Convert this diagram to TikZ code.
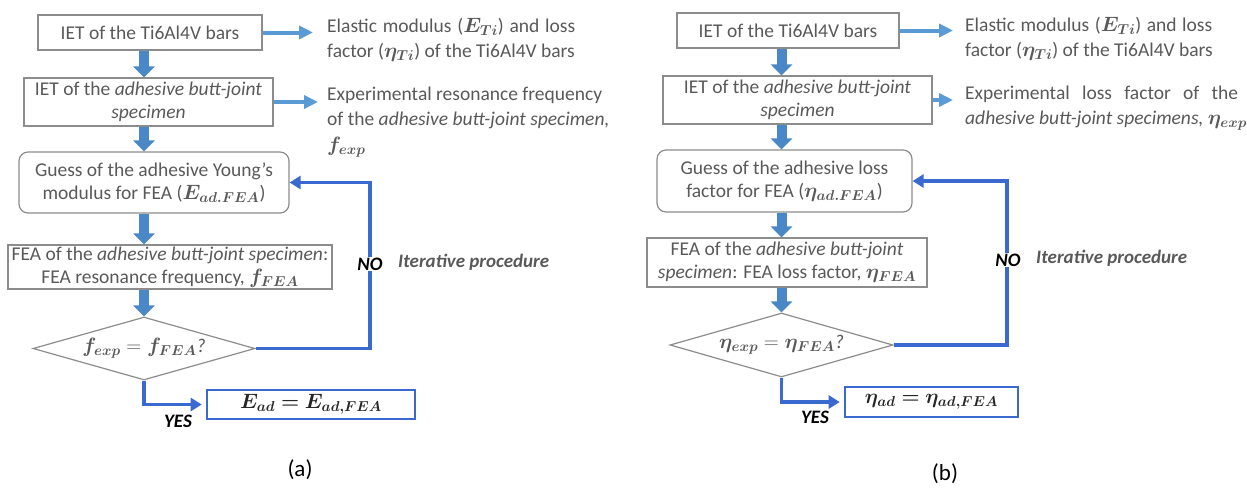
\documentclass[tikz,border=0pt]{standalone}
\usepackage{fontspec}
\setmainfont{Carlito}
\usepackage{bm}
\usetikzlibrary{arrows.meta,shapes.geometric,calc}
% slightly larger formulas next to the 19.5pt text
\DeclareMathSizes{19.5}{21.5}{15.5}{12}

\definecolor{txtgray}{HTML}{595959}
\definecolor{mathgray}{HTML}{404040}
\definecolor{boxgray}{HTML}{8C8C8C}
\definecolor{flowblue}{HTML}{4A87C6}
\definecolor{sideblue}{HTML}{5B9BD5}
\definecolor{loopblue}{HTML}{3A6AD0}

\begin{document}
\begin{tikzpicture}[x=1pt,y=-1pt,
  font=\fontsize{19.5}{23}\selectfont, text=txtgray,
  stepbox/.style={draw=boxgray, line width=1.2pt, rectangle, inner sep=0pt, align=center},
  guessbox/.style={stepbox, rounded corners=9pt},
  check/.style={draw=boxgray, line width=1.2pt, diamond, aspect=3.5, inner sep=0pt},
  resultbox/.style={draw=loopblue, line width=2.6pt, rectangle, inner sep=0pt, text=black!85},
  downarrow/.style={draw=flowblue, line width=10pt, -{Triangle[width=21pt,length=11pt]}},
  sidearrow/.style={draw=sideblue, line width=4pt, -{Triangle[width=13pt,length=14pt]}},
  looparrow/.style={draw=loopblue, line width=3.6pt, -{Triangle[width=13pt,length=11pt]}},
  sidetext/.style={inner sep=0pt, anchor=north west, align=left,
    font=\fontsize{19.5}{25}\selectfont},
  answer/.style={inner sep=1pt, font=\fontsize{19}{23}\selectfont\bfseries\itshape, text=black},
  noteitalic/.style={inner sep=0pt, anchor=west, font=\fontsize{19}{23}\selectfont\bfseries\itshape},
  caption/.style={inner sep=0pt, text=black, font=\fontsize{23}{27}\selectfont},
]
\useasboundingbox (0,0) rectangle (1247,488);

% ---------------- (a) Young's modulus ----------------
\node[stepbox, minimum width=224pt, minimum height=35pt] (a1) at (150,32.5)
  {IET of the Ti6Al4V bars};
\node[stepbox, minimum width=249pt, minimum height=48pt] (a2) at (148.5,102)
  {IET of the \textit{adhesive butt-joint}\\\textit{specimen}};
\node[guessbox, minimum width=270pt, minimum height=61pt] (a3) at (154,182.5)
  {Guess of the adhesive Young’s\\modulus for FEA ($\bm{E_{ad.FEA}}$)};
\node[stepbox, minimum width=324pt, minimum height=44pt] (a4) at (170,267)
  {FEA of the \textit{adhesive butt-joint specimen}:\\FEA resonance frequency, $\bm{f_{FEA}}$};
\node[check, minimum width=222pt, minimum height=63pt] (ad) at (144,348.5)
  {\makebox[0pt]{$\bm{f_{exp}} = \bm{f_{FEA}}$\textit{?}}};
\node[resultbox, minimum width=208pt, minimum height=29pt] (ar) at (311,404.5)
  {$\bm{E_{ad}} \bm{=} \bm{E_{ad,FEA}}$};

\node[sidetext] (at1) at (327,18)
  {\makebox[248pt][s]{Elastic modulus ($\bm{E_{Ti}}$) and loss}\\
   factor ($\bm{\eta_{Ti}}$) of the Ti6Al4V bars};
\node[sidetext] (at2) at (327,87)
  {\makebox[275pt][s]{Experimental resonance frequency}\\
   of the \textit{adhesive butt-joint specimen,}\\[1pt]
   $\bm{f_{exp}}$};

\draw[sidearrow] (a1.east) -- ([xshift=-14pt]a1.east -| at1.west);
\draw[sidearrow] (a2.east) -- ([xshift=-9pt]a2.east -| at2.west);

\draw[downarrow] (a1.south -| ad.north) -- (a2.north -| ad.north);
\draw[downarrow] (a2.south -| ad.north) -- (a3.north -| ad.north);
\draw[downarrow] (a3.south -| ad.north) -- (a4.north -| ad.north);
\draw[downarrow] (a4.south -| ad.north) -- (ad.north);

\coordinate (aloop) at (370,300);
\draw[looparrow] (ad.east) -| (aloop) |- (a3.east);
\draw[looparrow, shorten >=4pt] (ad.south) |- (ar.west);

\node[answer, fill=white] (ano) at (370,264) {NO};
\node[noteitalic] (ait) at (398,262) {Iterative procedure};
\node[answer] (ayes) at (178,421) {YES};
\node[caption] (acap) at (300,470) {(a)};

% ---------------- (b) loss factor ----------------
\node[stepbox, minimum width=222pt, minimum height=35pt] (b1) at (788,30.5)
  {IET of the Ti6Al4V bars};
\node[stepbox, minimum width=269pt, minimum height=48pt] (b2) at (797.5,100)
  {IET of the \textit{adhesive butt-joint}\\\textit{specimen}};
\node[guessbox, minimum width=255pt, minimum height=62pt] (b3) at (784.5,181)
  {Guess of the adhesive loss\\factor for FEA ($\bm{\eta_{ad.FEA}}$)};
\node[stepbox, minimum width=280pt, minimum height=49pt] (b4) at (787,262.5)
  {FEA of the \textit{adhesive butt-joint}\\\textit{specimen}: FEA loss factor, $\bm{\eta_{FEA}}$};
\node[check, minimum width=223pt, minimum height=64pt] (bd) at (781.5,345)
  {\makebox[0pt]{$\bm{\eta_{exp}} = \bm{\eta_{FEA}}$\textit{?}}};
\node[resultbox, minimum width=173pt, minimum height=30pt] (br) at (931.5,402)
  {$\bm{\eta_{ad}} \bm{=} \bm{\eta_{ad,FEA}}$};

\node[sidetext] (bt1) at (965,17)
  {\makebox[247pt][s]{Elastic modulus ($\bm{E_{Ti}}$) and loss}\\
   factor ($\bm{\eta_{Ti}}$) of the Ti6Al4V bars};
\node[sidetext] (bt2) at (965,86)
  {\makebox[273pt][s]{Experimental loss factor of the}\\
   \textit{adhesive butt-joint specimens,} $\bm{\eta_{exp}}$};

\draw[sidearrow] (b1.east) -- ([xshift=-12pt]b1.east -| bt1.west);
\draw[sidearrow] (b2.east) -- ([xshift=-12pt]b2.east -| bt2.west);

\draw[downarrow] (b1.south -| bd.north) -- (b2.north -| bd.north);
\draw[downarrow] (b2.south -| bd.north) -- (b3.north -| bd.north);
\draw[downarrow] (b3.south -| bd.north) -- (b4.north -| bd.north);
\draw[downarrow] (b4.south -| bd.north) -- (bd.north);

\coordinate (bloop) at (1007,300);
\draw[looparrow] (bd.east) -| (bloop) |- (b3.east);
\draw[looparrow, shorten >=4pt] (bd.south) |- (br.west);

\node[answer, fill=white] (bno) at (1008,260) {NO};
\node[noteitalic] (bit) at (1036,258) {Iterative procedure};
\node[answer] (byes) at (815,417) {YES};
\node[caption] (bcap) at (945,474) {(b)};
\end{tikzpicture}
\end{document}
